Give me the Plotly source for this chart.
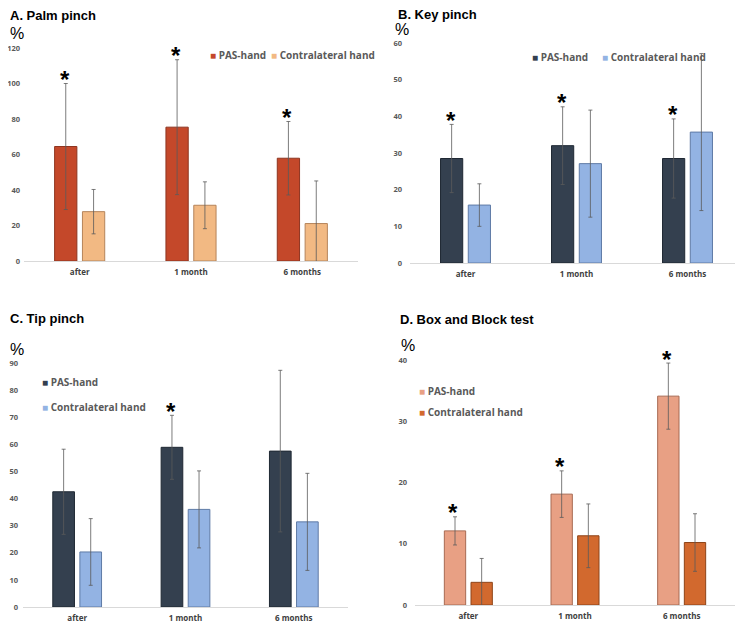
import plotly.graph_objects as go

# the page body keeps an 8px margin, so the figure is drawn 8px smaller
# and every pixel position below is given in window coordinates
OFF = 8
W, H = 743 - OFF, 622 - OFF

categories = ["after", "1 month", "6 months"]
series_names = ["PAS-hand", "Contralateral hand"]

# A. Palm pinch
palm_pas = [64.5, 75.4, 57.9]
palm_pas_sd = [35.5, 38.0, 20.7]
palm_contra = [27.8, 31.4, 21.1]
palm_contra_sd = [12.5, 13.2, 24.0]
palm_sig = [True, True, True]

# B. Key pinch
key_pas = [28.5, 32.0, 28.5]
key_pas_sd = [9.3, 10.6, 10.8]
key_contra = [15.8, 27.1, 35.7]
key_contra_sd = [5.8, 14.6, 21.4]
key_sig = [True, True, True]

# C. Tip pinch
tip_pas = [42.5, 58.9, 57.5]
tip_pas_sd = [15.7, 11.8, 29.8]
tip_contra = [20.3, 36.0, 31.4]
tip_contra_sd = [12.3, 14.2, 17.9]
tip_sig = [False, True, False]

# D. Box and Block test
bbt_pas = [12.1, 18.1, 34.1]
bbt_pas_sd = [2.3, 3.8, 5.4]
bbt_contra = [3.7, 11.3, 10.2]
bbt_contra_sd = [3.9, 5.2, 4.7]
bbt_sig = [True, True, True]


def px_x(p):
    return max(p - OFF, 0) / W


def px_y(p):
    return 1 - max(p - OFF, 0) / H


panels = [
    dict(title="A. Palm pinch", ax="", pas=palm_pas, pas_sd=palm_pas_sd,
         con=palm_contra, con_sd=palm_contra_sd, sig=palm_sig,
         colors=("#C4482A", "#F2B983"), edges=("#8E3520", "#B5845A"),
         xdom=(24, 358), ydom=(48, 261), yrange=(0, 120), dtick=20, standoff=3,
         title_pos=(8, 15), pct_pos=(8, 33),
         legend=[(208, 55), (269, 55)]),
    dict(title="B. Key pinch", ax="2", pas=key_pas, pas_sd=key_pas_sd,
         con=key_contra, con_sd=key_contra_sd, sig=key_sig,
         colors=("#34404F", "#93B3E3"), edges=("#1F2833", "#5F7BA6"),
         xdom=(410, 743), ydom=(43, 263), yrange=(0, 60), dtick=10, standoff=7,
         title_pos=(396, 14), pct_pos=(393, 29),
         legend=[(530, 57), (600, 57)]),
    dict(title="C. Tip pinch", ax="3", pas=tip_pas, pas_sd=tip_pas_sd,
         con=tip_contra, con_sd=tip_contra_sd, sig=tip_sig,
         colors=("#34404F", "#93B3E3"), edges=("#1F2833", "#5F7BA6"),
         xdom=(23, 348), ydom=(363, 607), yrange=(0, 90), dtick=10, standoff=4,
         title_pos=(8, 318), pct_pos=(8, 349),
         legend=[(40, 382), (40, 407)]),
    dict(title="D. Box and Block test", ax="4", pas=bbt_pas, pas_sd=bbt_pas_sd,
         con=bbt_contra, con_sd=bbt_contra_sd, sig=bbt_sig,
         colors=("#E8A084", "#D2692E"), edges=("#A86A52", "#8E4418"),
         xdom=(415, 735), ydom=(360, 605), yrange=(0, 40), dtick=10, standoff=7,
         title_pos=(398, 319), pct_pos=(399, 345),
         legend=[(417, 391), (417, 412)]),
]

fig = go.Figure()
annotations = []
layout_axes = {}

for p in panels:
    xa, ya = "x" + p["ax"], "y" + p["ax"]
    for name, vals, sd, col, edge in [
        (series_names[0], p["pas"], p["pas_sd"], p["colors"][0], p["edges"][0]),
        (series_names[1], p["con"], p["con_sd"], p["colors"][1], p["edges"][1]),
    ]:
        fig.add_trace(go.Bar(
            x=categories, y=vals, name=name, xaxis=xa, yaxis=ya,
            marker=dict(color=col, line=dict(color=edge, width=1)),
            error_y=dict(type="data", array=sd, color="#5A5A5A",
                         thickness=0.8, width=2),
            showlegend=False))

    # significance stars above the PAS-hand error bars
    for cat, v, s, sig in zip(categories, p["pas"], p["pas_sd"], p["sig"]):
        if sig:
            annotations.append(dict(
                x=cat, y=v + s, xref=xa, yref=ya, text="<b>*</b>", showarrow=False,
                xshift=-15, yshift=4, yanchor="middle",
                font=dict(family="Liberation Sans", size=24, color="#000000")))

    annotations.append(dict(
        x=px_x(p["title_pos"][0]), y=px_y(p["title_pos"][1]), xref="paper",
        yref="paper", xanchor="left", yanchor="middle", showarrow=False,
        text="<b>" + p["title"] + "</b>",
        font=dict(family="Liberation Sans", size=13, color="#000000")))
    annotations.append(dict(
        x=px_x(p["pct_pos"][0]), y=px_y(p["pct_pos"][1]), xref="paper",
        yref="paper", xanchor="left", yanchor="middle", showarrow=False,
        text="%", font=dict(family="Liberation Sans", size=16, color="#000000")))

    for (lx, ly), name, col in zip(p["legend"], series_names, p["colors"]):
        annotations.append(dict(
            x=px_x(lx), y=px_y(ly), xref="paper", yref="paper",
            xanchor="left", yanchor="middle", showarrow=False,
            text=f'<span style="color:{col}">■</span> <b>{name}</b>',
            font=dict(family="Open Sans", size=10, color="#595959")))

    key = p["ax"]
    layout_axes["xaxis" + key] = dict(
        domain=[px_x(p["xdom"][0]), min(px_x(p["xdom"][1]), 1.0)], anchor=ya,
        showgrid=False, showline=True, linecolor="#D9D9D9", linewidth=1,
        ticks="", automargin=False, fixedrange=True, ticklabelstandoff=3,
        tickfont=dict(family="Open Sans", size=8, color="#404040", weight="bold"))
    layout_axes["yaxis" + key] = dict(
        domain=[px_y(p["ydom"][1]), px_y(p["ydom"][0])], anchor=xa,
        range=list(p["yrange"]), dtick=p["dtick"], showgrid=False,
        zeroline=False, showline=False, ticks="", automargin=False,
        ticklabelstandoff=p["standoff"],
        tickfont=dict(family="Open Sans", size=7.5, color="#595959", weight="bold"))

fig.update_layout(
    width=W, height=H,
    margin=dict(l=0, r=0, t=0, b=0),
    paper_bgcolor="white", plot_bgcolor="white",
    barmode="group", bargap=0.5, bargroupgap=0.2,
    showlegend=False,
    annotations=annotations,
    **layout_axes,
)

fig.write_html("out.html")
